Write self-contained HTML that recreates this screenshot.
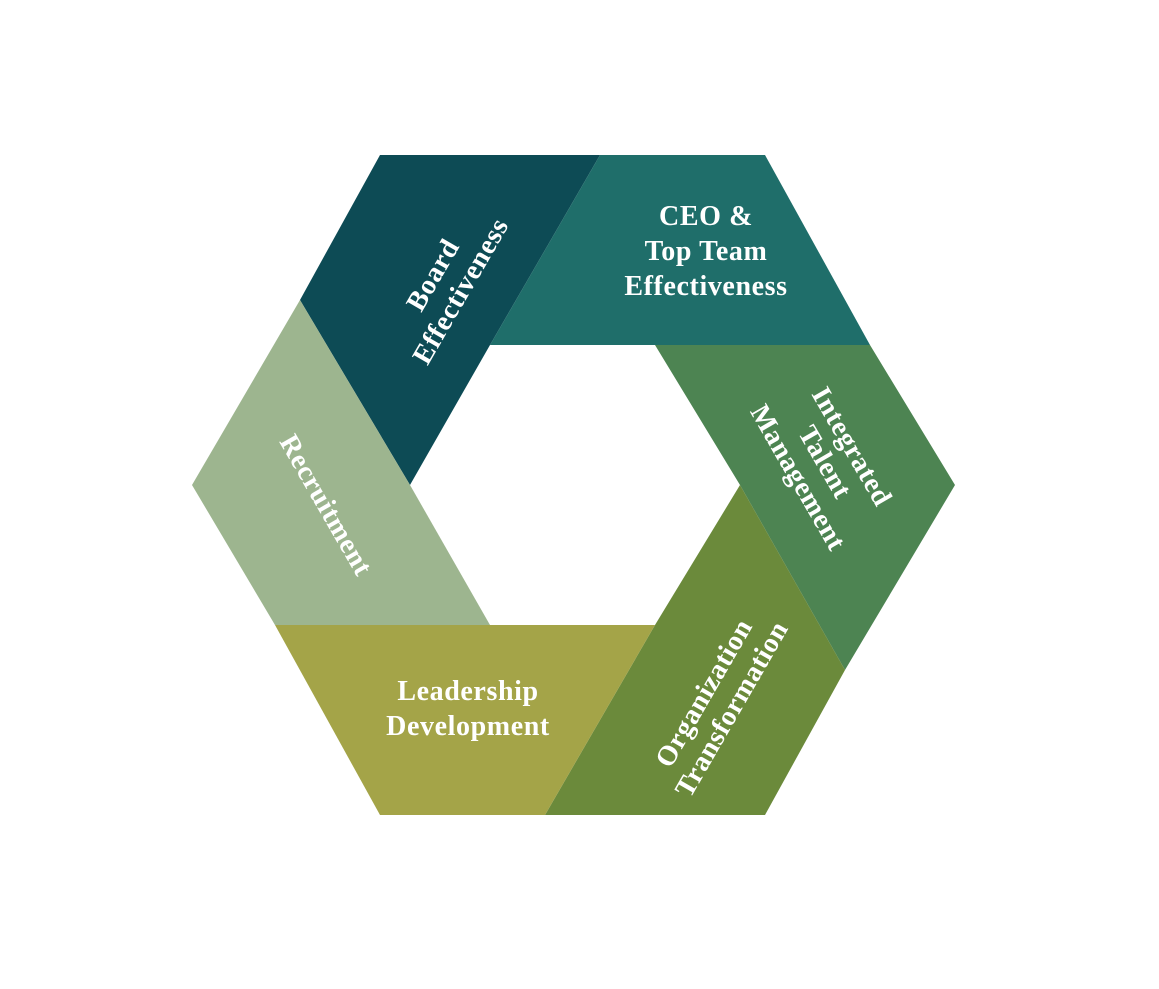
<!DOCTYPE html>
<html><head><meta charset="utf-8"><style>
html,body{margin:0;padding:0;background:#fff;}
svg text{font-family:"Liberation Serif",serif;font-weight:bold;fill:#fff;font-size:28px;letter-spacing:0.6px;text-anchor:middle;}
</style></head><body>
<svg width="1159" height="984" viewBox="0 0 1159 984" xmlns="http://www.w3.org/2000/svg">
<polygon points="380,155 600,155 490,345 410,485 300,300" fill="#0d4b55"/>
<polygon points="600,155 765,155 870,345 490,345" fill="#1f6e6a"/>
<polygon points="655,345 870,345 955,485 845,670 740,485" fill="#4d8452"/>
<polygon points="655,625 740,485 845,670 765,815 545,815" fill="#6b8a3b"/>
<polygon points="275,625 655,625 545,815 380,815" fill="#a4a448"/>
<polygon points="300,300 192,485 275,625 490,625 410,485" fill="#9db58f"/>
<g transform="translate(445,282) rotate(-60)">
<text y="-5">Board</text><text y="27">Effectiveness</text></g>
<text x="706" y="225">CEO &amp;</text>
<text x="706" y="260">Top Team</text>
<text x="706" y="295">Effectiveness</text>
<g transform="translate(825,462) rotate(60)">
<text y="-22">Integrated</text><text y="9">Talent</text><text y="40">Management</text></g>
<g transform="translate(716,700) rotate(-60)">
<text y="-5">Organization</text><text y="27">Transformation</text></g>
<text x="468" y="700">Leadership</text>
<text x="468" y="735">Development</text>
<g transform="translate(326,505) rotate(60)">
<text y="9">Recruitment</text></g>
</svg>
</body></html>
